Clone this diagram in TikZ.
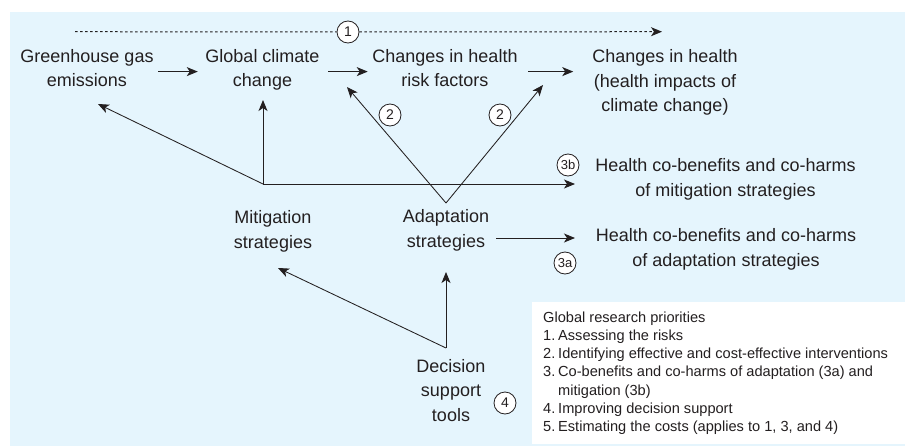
\documentclass[tikz,border=0pt]{standalone}
\usepackage{fontspec}
\setmainfont{Liberation Sans}
\usetikzlibrary{arrows.meta}
\definecolor{bgblue}{RGB}{229,245,253}
\definecolor{ink}{RGB}{35,31,32}
\newcommand\lgi[1]{\makebox[15pt][l]{#1}}
\begin{document}
\begin{tikzpicture}[x=1pt,y=-1pt,
  txt/.style={font=\fontsize{18}{24.5}\selectfont, align=center, inner sep=0pt, text=ink,
    execute at begin node=\strut, execute at end node=\strut},
  legend/.style={font=\fontsize{14.6}{18.2}\selectfont, align=left, inner sep=0pt, text=ink,
    execute at begin node=\strut, execute at end node=\strut},
  circ/.style={circle, draw=ink, fill=white, line width=0.8pt, minimum size=22pt, inner sep=0pt,
    font=\fontsize{14}{14}\selectfont, text=ink},
  circs/.style={circ, font=\fontsize{13}{13}\selectfont},
  arr/.style={draw=ink, line width=0.95pt, -{Stealth[length=11pt,width=9pt,inset=3pt]}},
  thin/.style={draw=ink, line width=0.85pt},
  dotline/.style={draw=ink, line width=1pt, dash pattern=on 2.5pt off 2.5pt}]
\useasboundingbox (0,0) rectangle (905,447);
\fill[bgblue] (10,12) rectangle (905,446);
\fill[white] (532,302) rectangle (905,444);

% text nodes
\node[txt] (ghg) at (87,71.6) {Greenhouse gas\\emissions};
\node[txt] (gcc) at (262.5,71.6) {Global climate\\change};
\node[txt] (chrf) at (445,71.6) {Changes in health\\risk factors};
\node[txt] (ch) at (665,84.3) {Changes in health\\(health impacts of\\climate change)};
\node[txt] (cb3b) at (725.5,181) {Health co-benefits and co-harms\\of mitigation strategies};
\node[txt] (mit) at (273,233) {Mitigation\\strategies};
\node[txt] (adapt) at (446,232) {Adaptation\\strategies};
\node[txt] (cb3a) at (726,251) {Health co-benefits and co-harms\\of adaptation strategies};
\node[txt] (dec) at (451,394) {Decision\\support\\tools};

\node[legend, anchor=north west] (leg) at (543,311.6) {Global research priorities\\
\lgi{1.}Assessing the risks\\
\lgi{2.}Identifying effective and cost-effective interventions\\
\lgi{3.}Co-benefits and co-harms of adaptation (3a) and\\
\lgi{}mitigation (3b)\\
\lgi{4.}Improving decision support\\
\lgi{5.}Estimating the costs (applies to 1, 3, and 4)};

% junctions and free ends
\coordinate (dS) at (75,31.7);
\coordinate (dE) at (662,31.7);
\coordinate (M) at (263,184);
\coordinate (A) at (446,203);
\coordinate (D) at (446,348);
\coordinate (tGhg) at (98,104);
\coordinate (tGcc) at (263,100);
\coordinate (t3b) at (575,184);
\coordinate (tL2) at (347,87);
\coordinate (tR2) at (543,85);
\coordinate (sAd) at (496,238);
\coordinate (t3a) at (575,238);
\coordinate (tAd) at (446,272);
\coordinate (tMi) at (278,268);

% circles
\node[circ] (c1) at (348,32) {1};
\node[circ] (c2a) at (390,115) {2};
\node[circ] (c2b) at (500,115) {2};
\node[circs] (c3b) at (568,165) {3b};
\node[circs] (c3a) at (565,263) {3a};
\node[circ] (c4) at (505,403) {4};

% dotted arrow
\draw[dotline] (dS) -- (c1);
\draw[dotline, -{Stealth[length=11pt,width=9pt,inset=3pt]}] (c1) -- (dE);

% main chain
\draw[arr, shorten <=4.5pt, shorten >=7.5pt] (ghg.east) -- (gcc.west);
\draw[arr, shorten <=8.5pt, shorten >=4.5pt] (gcc.east) -- (chrf.west);
\draw[arr, shorten <=10.5pt, shorten >=19pt] (chrf.east) -- (chrf.east -| ch.west);

% mitigation branches
\draw[arr, thin] (M) -- (tGhg);
\draw[arr] (M) -- (tGcc);
\draw[arr] (M) -- (t3b);

% adaptation branches
\draw[arr, thin] (A) -- (tL2);
\draw[arr, thin] (A) -- (tR2);
\draw[arr] (sAd) -- (t3a);

% decision branches
\draw[arr] (D) -- (tAd);
\draw[arr, thin] (D) -- (tMi);
\end{tikzpicture}
\end{document}
